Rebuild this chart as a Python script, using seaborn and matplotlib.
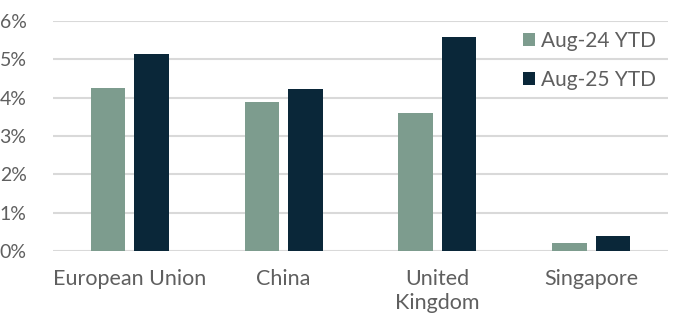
import matplotlib
matplotlib.use("Agg")
import matplotlib.pyplot as plt
import seaborn as sns
import pandas as pd
from matplotlib.ticker import FuncFormatter

categories = ["European Union", "China", "United\nKingdom", "Singapore"]
aug24 = [4.25, 3.90, 3.60, 0.21]
aug25 = [5.14, 4.22, 5.59, 0.40]
series = ["Aug-24 YTD", "Aug-25 YTD"]
colors = ["#7d9c8e", "#0a2739"]

df = pd.DataFrame({
    "country": categories * 2,
    "value": aug24 + aug25,
    "series": [series[0]] * 4 + [series[1]] * 4,
})

sns.set_theme(style="white")
plt.rcParams["font.family"] = ["Lato", "DejaVu Sans"]
text_color = "#5f5f5f"

fig = plt.figure(figsize=(6.76, 3.22), dpi=100)
ax = fig.add_axes([53/676, 1 - 251/322, 615/676, 230/322])

sns.barplot(data=df, x="country", y="value", hue="series", palette=colors,
            width=0.566, gap=0.21, ax=ax, saturation=1, edgecolor="none")

ax.set_ylim(0, 6)
ax.set_yticks(range(0, 7))
ax.yaxis.set_major_formatter(FuncFormatter(lambda v, p: f"{int(v)}%"))
ax.grid(axis="y", color="#d9d9d9", linewidth=1.5)
ax.set_axisbelow(True)
for s in ax.spines.values():
    s.set_visible(False)
ax.set_xlabel("")
ax.set_ylabel("")
ax.set_xlim(-0.5, 3.5)
ax.tick_params(axis="both", length=0, labelcolor=text_color)
ax.tick_params(axis="x", pad=13, labelsize=15.5)
ax.tick_params(axis="y", pad=19, labelsize=14)
for lbl in ax.get_xticklabels():
    lbl.set_linespacing(1.25)

leg = ax.legend(loc="upper right", bbox_to_anchor=(1.0, 1.01), frameon=False,
                fontsize=15, handlelength=0.6, handleheight=0.6,
                handletextpad=0.25, labelspacing=0.9, borderaxespad=0.2)
for t in leg.get_texts():
    t.set_color(text_color)

fig.savefig("out.png", dpi=100)
